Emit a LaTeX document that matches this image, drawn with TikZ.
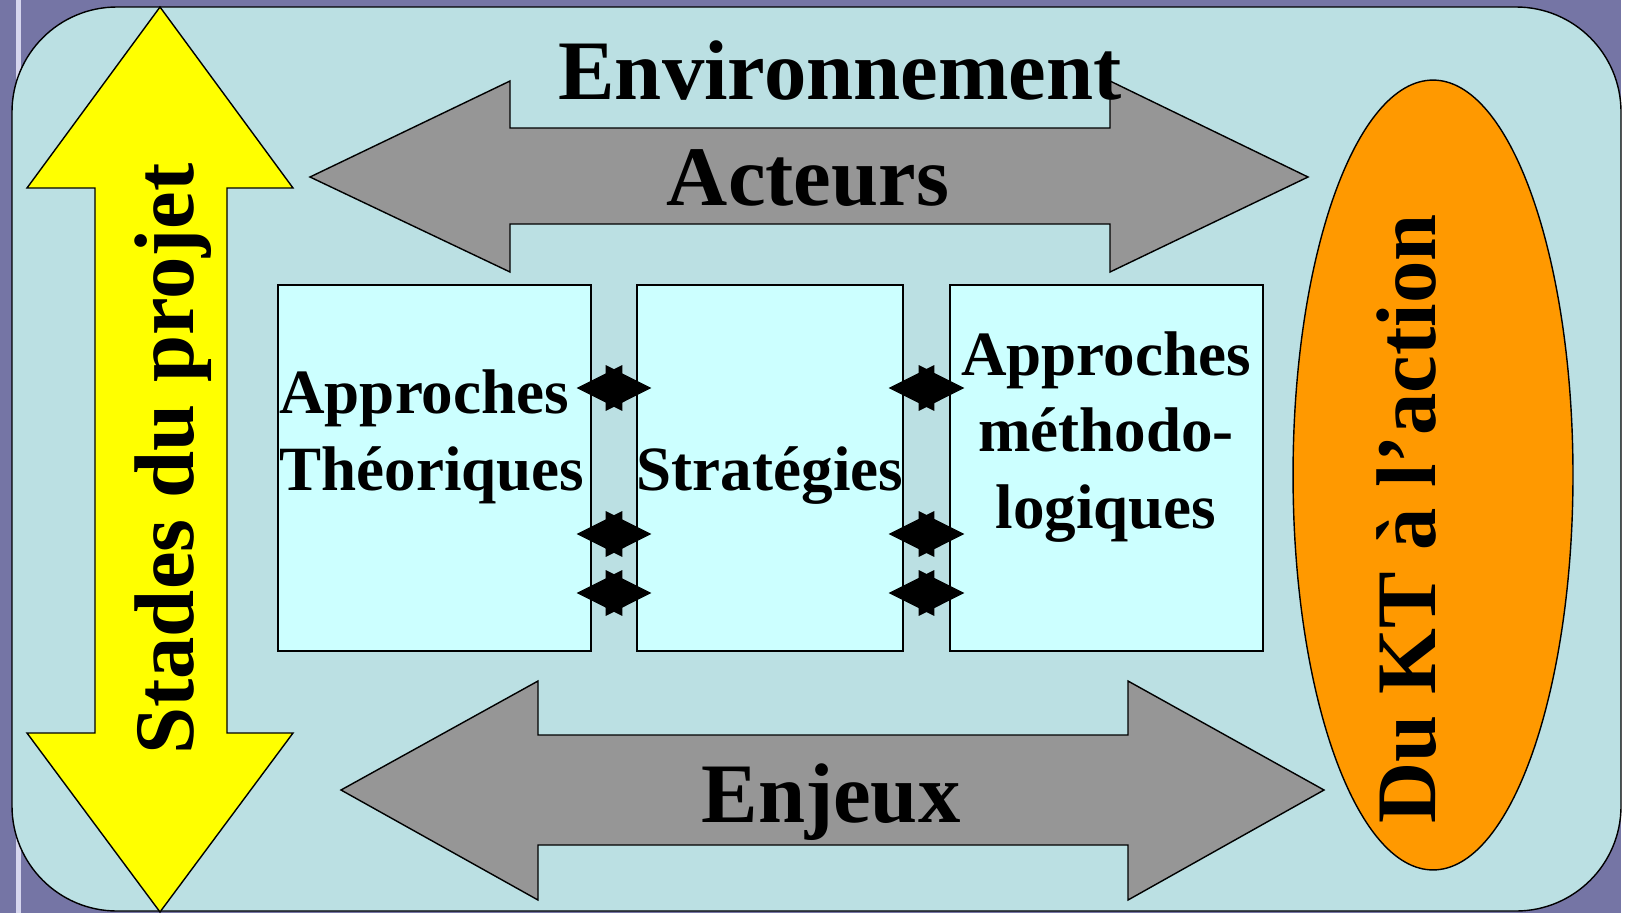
\documentclass[tikz,border=0pt]{standalone}
\usepackage{fontspec}
\setmainfont{Liberation Serif}
\usetikzlibrary{arrows.meta,shapes.geometric,calc}
\definecolor{slate}{RGB}{117,117,165}
\definecolor{strip}{RGB}{214,214,238}
\definecolor{sea}{RGB}{187,224,227}
\definecolor{pale}{RGB}{204,255,255}
\definecolor{sun}{RGB}{255,255,0}
\definecolor{ash}{RGB}{150,150,150}
\definecolor{amber}{RGB}{255,153,0}

\begin{document}
\begin{tikzpicture}[x=0.02cm,y=-0.02cm]
\tikzstyle{every node}+=[inner sep=0pt]
\tikzstyle{big}=[font=\bfseries\fontsize{48.2}{58}\selectfont]
\tikzstyle{boxtxt}=[font=\bfseries\fontsize{35.9}{43.5}\selectfont]
\tikzstyle{box}=[draw, fill=pale, line width=0.8pt, minimum height=7.32cm]
\tikzstyle{link}=[{Triangle[length=26pt,width=26pt]}-{Triangle[length=26pt,width=26pt]}, line width=0.6pt]
\useasboundingbox (0,0) rectangle (1631,913);
% slide background
\fill [slate] (0,0) rectangle (1621,913);
\fill [strip] (16,0) rectangle (21,913);
\draw [fill=sea, line width=0.8pt, rounded corners=2.1cm] (12,7) rectangle (1621,911);
% block arrows
\draw [fill=sun, line width=0.8pt] (160,7) -- (293,188) -- (227,188) -- (227,733) -- (293,733) -- (160,912) -- (27,733) -- (95,733) -- (95,188) -- (27,188) -- cycle;
\draw [fill=ash, line width=0.8pt] (310,177) -- (510,81) -- (510,128) -- (1110,128) -- (1110,81) -- (1308,177) -- (1110,272) -- (1110,224) -- (510,224) -- (510,272) -- cycle;
\draw [fill=ash, line width=0.8pt] (341,790) -- (538,681) -- (538,735) -- (1128,735) -- (1128,681) -- (1324,790) -- (1128,900) -- (1128,845) -- (538,845) -- (538,900) -- cycle;
\node [ellipse, draw, fill=amber, line width=0.8pt, minimum width=5.6cm, minimum height=15.8cm] (kt) at (1433,475) {};
% the three boxes
\node [box, minimum width=6.26cm] (th) at (434.5,468) {};
\node [box, minimum width=5.32cm] (st) at (770,468) {};
\node [box, minimum width=6.26cm] (me) at (1106.5,468) {};
\node [boxtxt, align=left, anchor=base west] (tht) at (279,490) {Approches\\Théoriques};
\node [boxtxt, anchor=base] (stt) at (770,490) {Stratégies};
\node [boxtxt, align=center, anchor=base] (met) at (1106,528) {Approches\\méthodo-\\logiques};
\draw [link] ($(th.east |- 0,388)+(-15,0)$) -- ($(st.west |- 0,388)+(15,0)$);
\draw [link] ($(th.east |- 0,534)+(-15,0)$) -- ($(st.west |- 0,534)+(15,0)$);
\draw [link] ($(th.east |- 0,593)+(-15,0)$) -- ($(st.west |- 0,593)+(15,0)$);
\draw [link] ($(st.east |- 0,388)+(-15,0)$) -- ($(me.west |- 0,388)+(15,0)$);
\draw [link] ($(st.east |- 0,534)+(-15,0)$) -- ($(me.west |- 0,534)+(15,0)$);
\draw [link] ($(st.east |- 0,593)+(-15,0)$) -- ($(me.west |- 0,593)+(15,0)$);
% big labels
\node [big, anchor=base] (env) at (840,99) {Environnement};
\node [big, anchor=base] (act) at (808,205) {Acteurs};
\node [big, anchor=base] (enj) at (831,822) {Enjeux};
\node [big, rotate=90, anchor=base] (sta) at (193,459) {Stades du projet};
\node [big, rotate=90, anchor=base] (dkt) at (1435,519) {Du KT à l’action};
\end{tikzpicture}
\end{document}
